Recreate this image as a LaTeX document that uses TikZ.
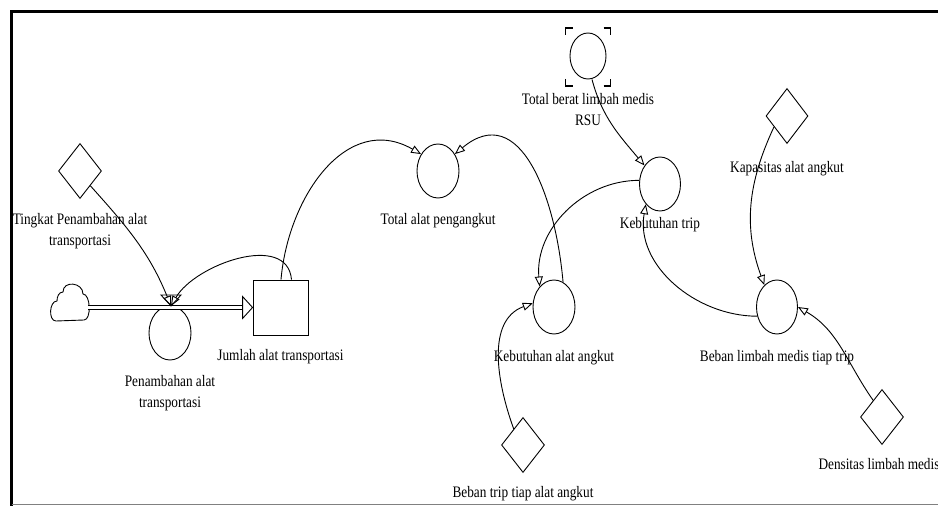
\documentclass[tikz,border=0pt]{standalone}
\usepackage{fontspec}
\setmainfont{Liberation Serif}[FakeStretch=0.83]
\usetikzlibrary{arrows.meta,positioning,shapes.geometric}

\begin{document}
\begin{tikzpicture}[x=1pt,y=1pt,line width=0.9pt,
        node distance=14pt,
        aux/.style={ellipse,draw,minimum width=42pt,minimum height=54pt,inner sep=0pt},
        const/.style={diamond,draw,minimum width=43pt,minimum height=55pt,inner sep=0pt},
        level/.style={rectangle,draw,minimum width=55pt,minimum height=55pt,inner sep=0pt},
        lbl/.style={inner sep=0pt,align=center,font=\fontsize{16}{21}\selectfont},
        link/.style={-{Triangle[open,length=10pt,width=8pt]}},
        pipe/.style={double,double distance=3pt}
    ]
        \useasboundingbox (0,0) rectangle (938,506);

        % frame
        \draw[line width=3.5pt] (11.5,0) -- (11.5,494.5) -- (938,494.5);
        \draw[gray,line width=1pt] (11.5,1.5) -- (938,1.5);

        % stock and flow
        \coordinate (src) at (70,203);
        \node[level] (stock) at (280.5,198.5) {};
        \node[aux] (pen) at (170,173) {};
        \coordinate (valve) at (171,200);

        \node[lbl, below=14pt of stock] (stockL) {Jumlah alat transportasi};
        \node[lbl, below=15pt of pen] (penL) {Penambahan alat\\transportasi};

        % auxiliaries and constants
        \node[const] (tpa) at (80,335) {};
        \node[lbl, below=14pt of tpa] (tpaL) {Tingkat Penambahan alat\\transportasi};
        \node[aux] (tap) at (438,335) {};
        \node[lbl, below=15pt of tap] (tapL) {Total alat pengangkut};
        \node[aux, minimum width=36pt, minimum height=46pt] (rsu) at (588,450) {};
        \node[lbl, below=14pt of rsu] (rsuL) {Total berat limbah medis\\RSU};
        \node[aux, minimum width=41pt] (ktrip) at (660,322) {};
        \node[lbl, below=6pt of ktrip] (ktripL) {Kebutuhan trip};
        \node[const, minimum width=42pt] (kap) at (787,390) {};
        \node[lbl, below=17pt of kap] (kapL) {Kapasitas alat angkut};
        \node[aux] (kaa) at (554,199) {};
        \node[lbl, below=16pt of kaa] (kaaL) {Kebutuhan alat angkut};
        \node[aux, minimum width=41pt] (blm) at (777,199) {};
        \node[lbl, below=16pt of blm] (blmL) {Beban limbah medis tiap trip};
        \node[const] (bta) at (523,61) {};
        \node[lbl, below=13pt of bta] (btaL) {Beban trip tiap alat angkut};
        \node[const] (dens) at (882,89) {};
        \node[lbl, below=13pt of dens, xshift=-3pt] (densL) {Densitas limbah medis};

        % ghost brackets
        \draw[line width=1.2pt] ([shift={(-22.5,21)}]rsu.center) -- ++(0,7) -- ++(7,0);
        \draw[line width=1.2pt] ([shift={(15.5,28)}]rsu.center) -- ++(7,0) -- ++(0,-7);
        \draw[line width=1.2pt] ([shift={(-22.5,-23)}]rsu.center) -- ++(0,-7) -- ++(7,0);
        \draw[line width=1.2pt] ([shift={(15.5,-30)}]rsu.center) -- ++(7,0) -- ++(0,7);

        % cloud
        \draw ([shift={(-14,-18)}]src) to[out=180,in=180] ++(1,20)
            to[out=90,in=180] ++(6,9)
            to[out=90,in=90,looseness=1.5] ++(20,-2)
            to[out=0,in=0,looseness=0.75] ++(1,-26) -- cycle;

        % flow pipe
        \draw[pipe] ([xshift=18pt]src |- stock.west) -- ([xshift=-10pt]stock.west);
        \draw[fill=white] (stock.west) -- ++(-10,11) -- ++(0,-22) -- cycle;
        \draw[fill=white] (valve) -- ++(-10,11) -- ++(20,0) -- cycle;

        % links
        \draw[link] (tpa.-55) to[out=-48,in=112] (valve);
        \draw[link] ([xshift=11pt]stock.north) to[out=95,in=60] (valve);
        \draw[link] ([xshift=0.5pt]stock.north) to[out=85,in=150,looseness=1.15] (tap.135);
        \draw[link] (kaa.70) to[out=95,in=40,looseness=1.3] (tap.45);
        \draw[link] (ktrip.170) to[out=180,in=95] (kaa.125);
        \draw[link] ([xshift=4pt]rsu.south) to[out=-75,in=130] (ktrip.130);
        \draw[link] (blm.205) to[out=180,in=-100] (ktrip.235);
        \draw[link] (kap.220) to[out=-115,in=110] (blm.120);
        \draw[link] (bta.120) to[out=110,in=200] (kaa.170);
        \draw[link] (dens.118) to[out=125,in=-30] (blm.east);
    \end{tikzpicture}
\end{document}
